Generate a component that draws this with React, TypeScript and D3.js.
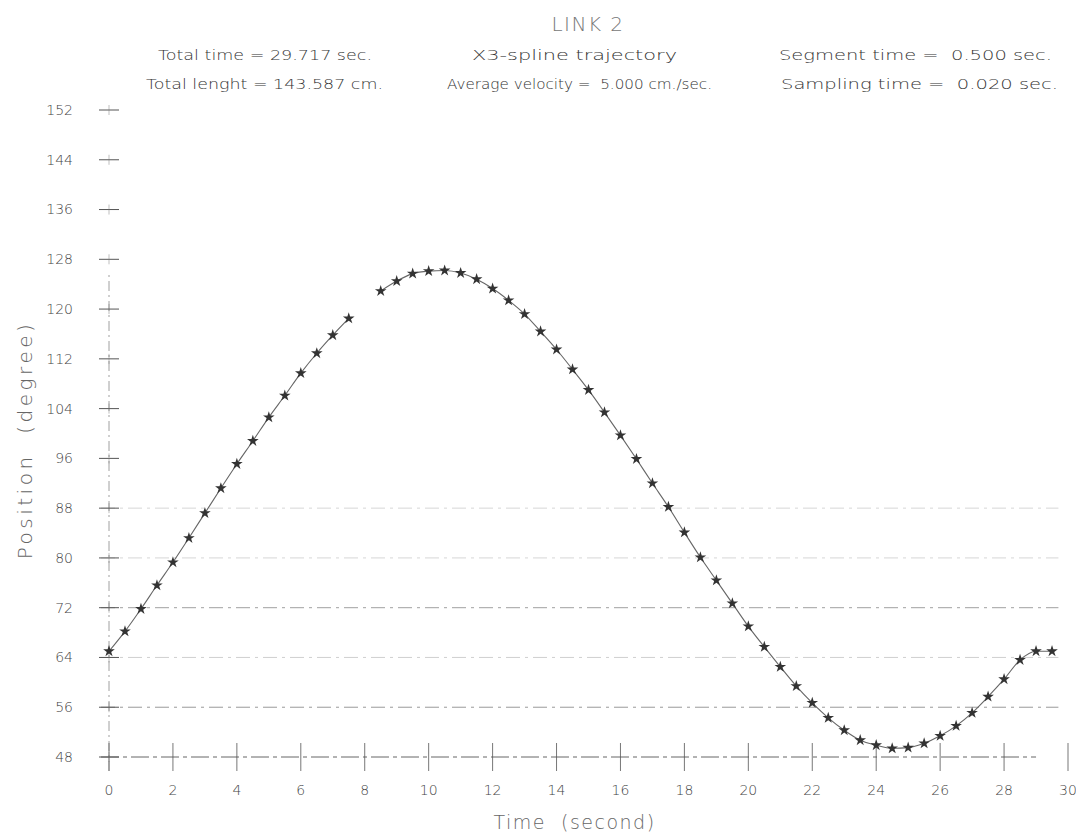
import React from "react";
import * as d3 from "d3";

// Link 2 joint position, sampled every segment (0.5 s); null marks the missing sample.
const times: number[] = [
  0, 0.5, 1, 1.5, 2, 2.5, 3, 3.5, 4, 4.5, 5, 5.5, 6, 6.5, 7, 7.5, 8, 8.5, 9, 9.5,
  10, 10.5, 11, 11.5, 12, 12.5, 13, 13.5, 14, 14.5, 15, 15.5, 16, 16.5, 17, 17.5,
  18, 18.5, 19, 19.5, 20, 20.5, 21, 21.5, 22, 22.5, 23, 23.5, 24, 24.5, 25, 25.5,
  26, 26.5, 27, 27.5, 28, 28.5, 29, 29.5,
];
const positions: (number | null)[] = [
  65.0, 68.2, 71.8, 75.6, 79.3, 83.2, 87.2, 91.2, 95.1, 98.8, 102.6, 106.1, 109.7,
  112.9, 115.8, 118.5, null, 122.9, 124.5, 125.7, 126.1, 126.2, 125.8, 124.8, 123.3,
  121.4, 119.2, 116.4, 113.5, 110.3, 107.0, 103.4, 99.7, 95.9, 92.0, 88.2, 84.1,
  80.1, 76.4, 72.7, 69.0, 65.7, 62.5, 59.4, 56.7, 54.3, 52.3, 50.7, 49.9, 49.4,
  49.5, 50.2, 51.4, 53.0, 55.1, 57.7, 60.5, 63.6, 65.0, 65.0,
];

const xTicks: number[] = [0, 2, 4, 6, 8, 10, 12, 14, 16, 18, 20, 22, 24, 26, 28, 30];
const yTicks: number[] = [48, 56, 64, 72, 80, 88, 96, 104, 112, 120, 128, 136, 144, 152];
// Horizontal reference lines drawn across the plot, with their strength
const gridValues: number[] = [56, 64, 72, 80, 88];
const gridOpacity: number[] = [0.75, 0.35, 0.7, 0.3, 0.3];

const title = "LINK 2";
const infoLeft = ["Total time = 29.717 sec.", "Total lenght = 143.587 cm."];
const infoMid = ["X3-spline trajectory", "Average velocity =  5.000 cm./sec."];
const infoRight = ["Segment time =  0.500 sec.", "Sampling time =  0.020 sec."];

const W = 1076;
const H = 838;

export default function App() {
  const x = d3.scaleLinear().domain([0, 30]).range([109, 1068]);
  const y = d3.scaleLinear().domain([48, 152]).range([757, 110]);

  const pts = times.map((t, i) => ({ t, v: positions[i] }));
  const line = d3
    .line<{ t: number; v: number | null }>()
    .defined((d) => d.v !== null)
    .x((d) => x(d.t))
    .y((d) => y(d.v as number))
    .curve(d3.curveMonotoneX);
  const star = d3.symbol().type(d3.symbolStar).size(42)() as string;

  const font = "'DejaVu Sans', sans-serif";
  const gridEnd = x(29.7);

  // header rows: [text, left x, drawn width]
  const header: [string, number, number][][] = [
    [
      [infoLeft[0], 158, 214],
      [infoMid[0], 472, 205],
      [infoRight[0], 779, 273],
    ],
    [
      [infoLeft[1], 146, 237],
      [infoMid[1], 447, 265],
      [infoRight[1], 781, 277],
    ],
  ];

  return (
    <svg
      width={W}
      height={H}
      viewBox={`0 0 ${W} ${H}`}
      style={{ position: "absolute", left: 0, top: 0, background: "#fff" }}
    >
      {/* title and run summary */}
      <text x={588} y={31} textAnchor="middle" fontFamily={font} fontSize={20} fontWeight={300} fill="#777" letterSpacing={1.5}>
        {title}
      </text>
      {header.map((row, r) => (
        <g key={r} fontFamily={font} fontSize={14} fontWeight={300} fill="#333">
          {row.map(([txt, tx, len]) => (
            <text key={txt} x={tx} y={60 + r * 29} textLength={len} lengthAdjust="spacingAndGlyphs" style={{ whiteSpace: "pre" }}>
              {txt}
            </text>
          ))}
        </g>
      ))}

      {/* horizontal reference lines */}
      {gridValues.map((g, i) => (
        <line
          key={g}
          x1={x(0) - 8}
          x2={gridEnd}
          y1={y(g)}
          y2={y(g)}
          stroke="#777"
          strokeOpacity={gridOpacity[i]}
          strokeWidth={1}
          strokeDasharray="14 5 3 5"
        />
      ))}

      {/* time axis baseline with crossing ticks */}
      <line x1={x(0) - 8} x2={x(29)} y1={y(48)} y2={y(48)} stroke="#666" strokeWidth={1} strokeDasharray="18 4 4 4" />
      {xTicks.map((t) => (
        <line key={t} x1={x(t)} x2={x(t)} y1={y(48) - 14} y2={y(48) + 14} stroke="#555" strokeWidth={1} strokeOpacity={0.8} />
      ))}

      {/* position axis */}
      <line x1={x(0)} x2={x(0)} y1={y(48) + 14} y2={y(126)} stroke="#777" strokeWidth={1} strokeDasharray="10 4 2 4" strokeOpacity={0.7} />
      {yTicks.map((v) => (
        <g key={v}>
          <line x1={x(0) - 10} x2={x(0) + 10} y1={y(v)} y2={y(v)} stroke="#555" strokeWidth={1} />
          <line x1={x(0)} x2={x(0)} y1={y(v) - 5} y2={y(v) + 5} stroke="#777" strokeWidth={0.8} strokeOpacity={0.6} />
        </g>
      ))}

      {/* tick labels */}
      <g fontFamily={font} fontSize={14} fontWeight={300} fill="#444">
        {yTicks.map((v) => (
          <text key={v} x={73} y={y(v)} dy="0.35em" textAnchor="end">{v}</text>
        ))}
        {xTicks.map((t) => (
          <text key={t} x={x(t)} y={790} dy="0.35em" textAnchor="middle">{t}</text>
        ))}
      </g>

      {/* axis titles */}
      <text x={x(15) - 14} y={822} dy="0.35em" textAnchor="middle" fontFamily={font} fontSize={19} fontWeight={300} fill="#666" letterSpacing={1.5} style={{ whiteSpace: "pre" }}>
        {"Time  (second)"}
      </text>
      <text
        transform={`translate(25, 440) rotate(-90)`}
        dy="0.35em"
        textAnchor="middle"
        fontFamily={font}
        fontSize={20}
        fontWeight={300}
        fill="#666"
        letterSpacing={3.5}
        style={{ whiteSpace: "pre" }}
      >
        {"Position  (degree)"}
      </text>

      {/* trajectory */}
      <path d={line(pts) ?? ""} fill="none" stroke="#666" strokeWidth={1.1} />
      {pts
        .filter((d) => d.v !== null)
        .map((d) => (
          <path key={d.t} d={star} transform={`translate(${x(d.t)},${y(d.v as number)})`} fill="#333" />
        ))}
    </svg>
  );
}
